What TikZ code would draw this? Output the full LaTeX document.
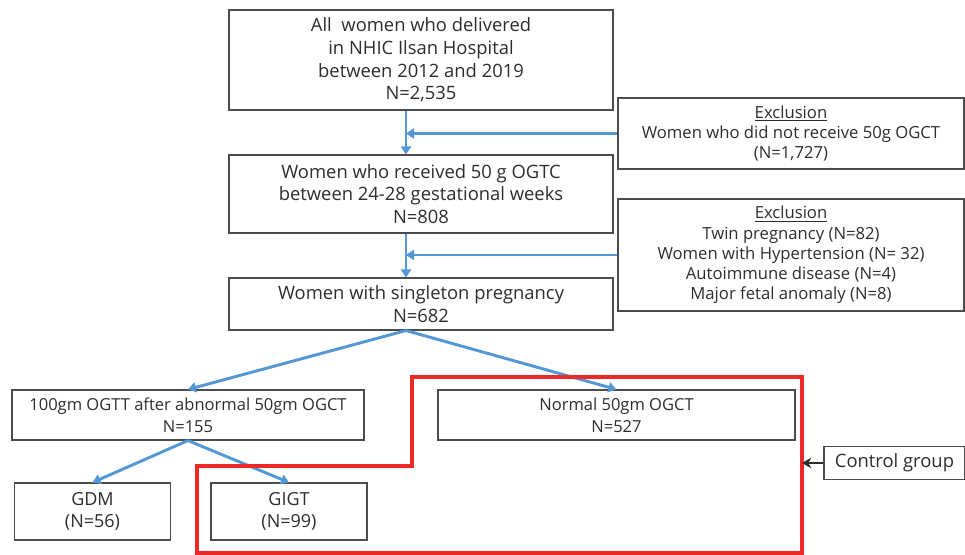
\documentclass[tikz,border=0pt]{standalone}
\usepackage{fontspec}
\setmainfont{Open Sans}
\usetikzlibrary{arrows.meta}
\definecolor{flowblue}{RGB}{84,151,213}
\definecolor{groupred}{RGB}{236,40,40}
\definecolor{inkgray}{RGB}{45,45,45}
\begin{document}
\begin{tikzpicture}[x=0.75pt, y=-0.75pt,
box/.style={draw=inkgray!85, line width=0.8pt, align=center, text=inkgray,
font=\fontsize{13.8}{17}\selectfont, inner sep=1pt},
small/.style={font=\fontsize{12.5}{15.2}\selectfont},
edge/.style={flowblue, line width=2.2pt, -{Triangle[length=6pt,width=7.5pt]}},
pointer/.style={inkgray, line width=1.6pt, -{Stealth[length=7pt,width=8pt]}}
]
\useasboundingbox (0,0) rectangle (965,555);
\node[box, minimum width=288pt, minimum height=75pt] (all) at (421,60)
  {All\ \ women who delivered\\in NHIC Ilsan Hospital\\between 2012 and 2019\\N=2,535};
\node[box, small, minimum width=259.5pt, minimum height=53.25pt] (excl1) at (791,133.5)
  {\underline{Exclusion}\\Women who did not receive 50g OGCT\\(N=1,727)};
\node[box, minimum width=288pt, minimum height=58.5pt] (received) at (421,194)
  {Women who received 50 g OGTC\\between 24-28 gestational weeks\\N=808};
\node[box, small, minimum width=259.5pt, minimum height=84pt] (excl2) at (791,255)
  {\underline{Exclusion}\\Twin pregnancy (N=82)\\Women with Hypertension (N= 32)\\Autoimmune disease (N=4)\\Major fetal anomaly (N=8)};
\node[box, minimum width=288pt, minimum height=39pt] (single) at (421,304)
  {Women with singleton pregnancy\\N=682};
\node[box, font=\fontsize{12.4}{16.5}\selectfont, minimum width=264pt, minimum height=37.5pt] (ogtt) at (188,415)
  {100gm OGTT after abnormal 50gm OGCT\\N=155};
\node[box, font=\fontsize{12.4}{16.5}\selectfont, minimum width=267.75pt, minimum height=37.5pt] (normal) at (616.5,415)
  {Normal 50gm OGCT\\N=527};
\node[box, font=\fontsize{13.5}{17}\selectfont, minimum width=117pt, minimum height=42.75pt] (gdm) at (92.5,511.5)
  {GDM\\(N=56)};
\node[box, font=\fontsize{13.5}{17}\selectfont, minimum width=117pt, minimum height=42.75pt] (gigt) at (289,511.5)
  {GIGT\\(N=99)};
\node[box, minimum width=105.75pt, minimum height=24.75pt] (control) at (894.5,463)
  {Control group};
\coordinate (trunk) at (406,0);
\coordinate (redside) at (802,0);

% main stream
\draw[edge] (all.south -| trunk) -- (received.north -| trunk);
\draw[edge] (received.south -| trunk) -- (single.north -| trunk);
\draw[edge] (excl1.west) -- (excl1.west -| trunk);
\draw[edge] (excl2.west) -- (excl2.west -| trunk);
\draw[edge] (single.south -| trunk) -- (ogtt.north);
\draw[edge] (single.south -| trunk) -- (normal.north);
\draw[edge] (ogtt.south) -- (gdm.north);
\draw[edge] (ogtt.south) -- (gigt.north);

% control group outline
\draw[groupred, line width=2.3pt] (412,377) -- (802,377) -- (802,553) -- (197,553)
  -- (197,466) -- (412,466) -- cycle;
\draw[pointer] (control.west) -- (control.west -| redside);
\end{tikzpicture}
\end{document}
